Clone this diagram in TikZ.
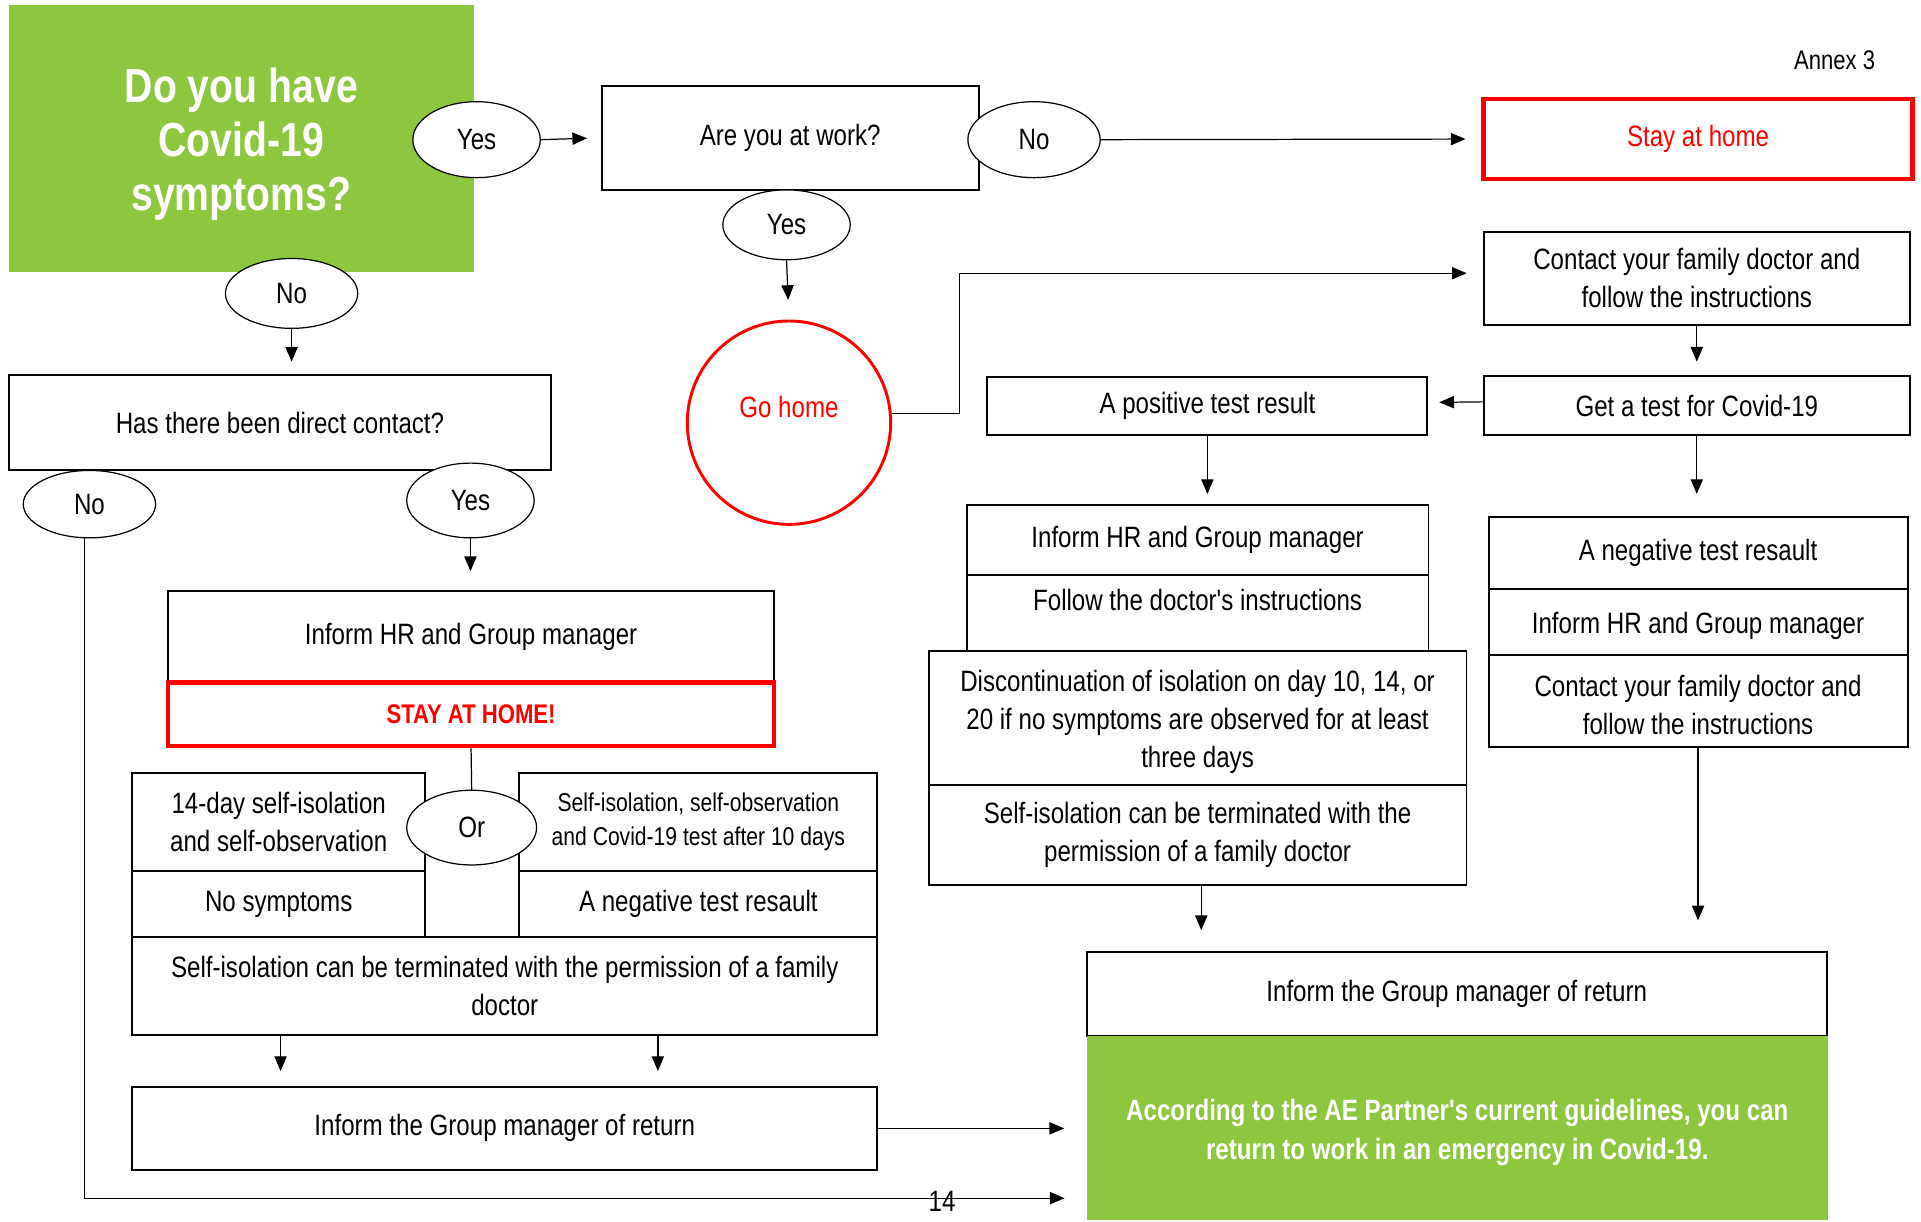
\documentclass[tikz,border=0pt]{standalone}
\usepackage{fontspec}
\defaultfontfeatures[\rmfamily]{}
\setmainfont[FakeStretch=0.82]{Liberation Sans}
\usetikzlibrary{shapes.geometric,arrows.meta,calc}
\definecolor{cgreen}{HTML}{8DC63F}
\definecolor{cred}{HTML}{FF0000}
\newcommand{\apos}{\char39\relax}
\begin{document}
\begin{tikzpicture}[x=0.5pt,y=-0.5pt,
  box/.style={draw, line width=0.8pt, fill=white, inner sep=2pt, align=center, font=\fontsize{12}{15.5}\selectfont},
  redbox/.style={box, draw=cred, line width=1.8pt, text=cred},
  greenbox/.style={fill=cgreen, inner sep=2pt, align=center, text=white},
  oval/.style={ellipse, draw, line width=0.5pt, fill=white, inner sep=0pt, font=\fontsize{12}{14}\selectfont},
  conn/.style={line width=0.5pt},
  arr/.style={conn, -{Triangle[length=6pt,width=5pt]}},
]
\useasboundingbox (0,0) rectangle (1568,997);

% ---- top row
\node[greenbox, minimum width=190pt, minimum height=109pt, font=\bfseries\fontsize{19.5}{22}\selectfont] (q1) at (197,113) {\rule{0pt}{19pt}Do you have\\Covid-19\\symptoms?};
\node[box, minimum width=154pt, minimum height=42.5pt] (work) at (645,112.5) {Are you at work?};
\node[redbox, minimum width=175pt, minimum height=32.5pt] (stay) at (1386,113.5) {Stay at home};
\node[anchor=east, inner sep=0pt, font=\fontsize{11}{13}\selectfont] (annex) at (1531,49) {Annex 3};

\node[oval, minimum width=52pt, minimum height=31pt] (yes1) at (389,114) {Yes};
\node[oval, minimum width=54pt, minimum height=31pt] (no1) at (844,114) {No};
\node[oval, minimum width=52pt, minimum height=28.5pt] (yes2) at (642,183.5) {Yes};

% ---- go home
\node[circle, draw=cred, line width=1.2pt, minimum size=83pt, inner sep=0pt, text=cred, text height=9pt, text depth=13.5pt, font=\fontsize{12}{14}\selectfont] (gohome) at (644,345) {Go home};

% ---- right column
\node[box, minimum width=174pt, minimum height=38pt] (contact1) at (1385,227) {Contact your family doctor and\\follow the instructions};
\node[box, minimum width=174pt, minimum height=24pt] (gettest) at (1385,331) {Get a test for Covid-19};
\node[box, minimum width=179.5pt, minimum height=23.5pt] (positive) at (985.5,331.5) {A positive test result};

\node[box, minimum width=188.5pt, minimum height=28.5pt] (informP) at (977.5,440.5) {Inform HR and Group manager};
\node[box, minimum width=188.5pt, minimum height=31pt, text height=9pt, text depth=10.5pt] (follow) at (977.5,500) {Follow the doctor\apos s instructions};
\node[box, minimum width=219.5pt, minimum height=55pt] (discont) at (977.5,586) {\rule{0pt}{12pt}Discontinuation of isolation on day 10, 14, or\\20 if no symptoms are observed for at least\\three days};
\node[box, minimum width=219.5pt, minimum height=40.5pt] (selfP) at (977.5,681.5) {Self-isolation can be terminated with the\\permission of a family doctor};

\node[box, minimum width=171pt, minimum height=29.5pt] (negR) at (1386,451.5) {A negative test resault};
\node[box, minimum width=171pt, minimum height=27pt, text height=9pt, text depth=-3.5pt] (informN) at (1386,508) {Inform HR and Group manager};
\node[box, minimum width=171pt, minimum height=37.5pt] (contactN) at (1386,572.5) {\rule{0pt}{11.5pt}Contact your family doctor and\\follow the instructions};

\node[box, minimum width=302pt, minimum height=34.5pt] (returnR) at (1189,811.5) {Inform the Group manager of return};
\node[greenbox, minimum width=302.5pt, minimum height=75pt, font=\bfseries\fontsize{12}{16}\selectfont] (green2) at (1189.5,921) {\rule{0pt}{12pt}According to the AE Partner\apos s current guidelines, you can\\return to work in an emergency in Covid-19.};

% ---- left column
\node[box, minimum width=221.5pt, minimum height=39pt] (direct) at (228.5,345) {Has there been direct contact?};
\node[oval, minimum width=54pt, minimum height=28.5pt] (no2) at (238,239.5) {No};
\node[oval, minimum width=54pt, minimum height=27.5pt] (no3) at (73,411.5) {No};
\node[oval, minimum width=52pt, minimum height=30.5pt] (yes3) at (384,408.5) {Yes};

\node[box, minimum width=247.5pt, minimum height=37.5pt] (informL) at (384.5,519.5) {Inform HR and Group manager};
\node[redbox, minimum width=247.5pt, minimum height=26pt, font=\bfseries\fontsize{11}{13}\selectfont] (stayL) at (384.5,583) {STAY AT HOME!};

\node[box, minimum width=119.5pt, minimum height=40pt] (iso14) at (227.5,671) {14-day self-isolation\\and self-observation};
\node[box, minimum width=119.5pt, minimum height=27pt] (nosym) at (227.5,738) {No symptoms};
\node[box, minimum width=146pt, minimum height=40pt, font=\fontsize{10.5}{14}\selectfont] (isoR) at (570,671) {Self-isolation, self-observation\\and Covid-19 test after 10 days};
\node[box, minimum width=146pt, minimum height=27pt] (negL) at (570,738) {A negative test resault};
\node[box, minimum width=304pt, minimum height=40pt] (terminate) at (412,805) {Self-isolation can be terminated with the permission of a family\\doctor};
\node[box, minimum width=304pt, minimum height=34pt] (returnL) at (412,921) {Inform the Group manager of return};

\draw[conn] (stayL.south) -- (385,645);
\node[oval, minimum width=53pt, minimum height=30.5pt] (or) at (385,675.5) {Or};

% ---- connectors
\draw[arr, shorten >=5.5pt] (yes1.east) -- (work.west);
\draw[arr, shorten >=6.5pt] (no1.east) -- (stay.west);
\draw[arr, shorten >=8pt] (yes2.south) -- (gohome.north);
\coordinate (bend) at (783,223);
\draw[arr, shorten >=6.5pt] (gohome.5.5) -| (bend) -- ([yshift=2pt]contact1.west);
\draw[arr, shorten >=5.5pt] (contact1.south) -- (gettest.north);
\draw[arr, shorten >=4.5pt] ([yshift=1.5pt]gettest.west) -- ([yshift=1.5pt]positive.east);
\draw[arr, shorten >=4pt] (positive.south) -- (positive.south |- informP.north);
\draw[arr, shorten >=9pt] (gettest.south) -- (gettest.south |- negR.north);
\draw[arr, shorten >=8.5pt] ([xshift=1.5pt]selfP.south) -- ([xshift=1.5pt]selfP.south |- returnR.north);
\draw[arr, shorten >=12.5pt] (contactN.south) -- (contactN.south |- returnR.north);

\draw[arr, shorten >=5pt] (no2.south) -- (no2.south |- direct.north);
\draw[arr, shorten >=7.5pt] (yes3.south) -- (yes3.south |- informL.north);
\draw[arr, shorten >=6pt] ([xshift=-91.5pt]terminate.south) -- ([xshift=-91.5pt]terminate.south |- returnL.north);
\draw[arr, shorten >=6pt] ([xshift=62.5pt]terminate.south) -- ([xshift=62.5pt]terminate.south |- returnL.north);
\draw[arr, shorten >=9pt] (returnL.east) -- (returnL.east -| green2.west);
\coordinate (nend) at (887,978);
\draw[arr, shorten >=9pt] ([xshift=-2pt]no3.south) |- (nend);

\node[font=\fontsize{12}{14}\selectfont] (pg) at (769,981) {14};
\end{tikzpicture}
\end{document}
